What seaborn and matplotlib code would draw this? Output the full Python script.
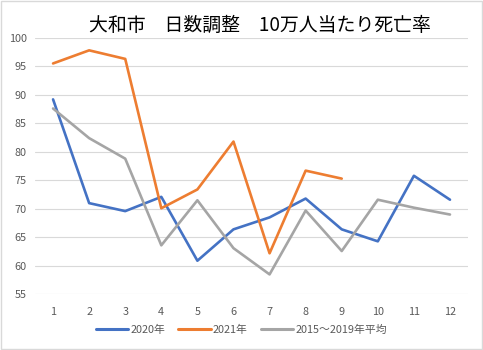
import matplotlib
matplotlib.use("Agg")
import matplotlib.pyplot as plt
import seaborn as sns
import pandas as pd
from matplotlib.patches import Rectangle
from matplotlib.lines import Line2D

months = list(range(1, 13))
y2020 = [89.2, 71.0, 69.6, 72.1, 60.9, 66.4, 68.5, 71.8, 66.4, 64.3, 75.8, 71.6]
y2021 = [95.5, 97.8, 96.3, 70.1, 73.4, 81.8, 62.2, 76.7, 75.3]
yavg = [87.6, 82.4, 78.8, 63.6, 71.5, 63.1, 58.5, 69.7, 62.6, 71.6, 70.2, 69.0]
series_names = ["2020年", "2021年", "2015～2019年平均"]
colors = ["#4472C4", "#ED7D31", "#A5A5A5"]
title = "大和市　日数調整　10万人当たり死亡率"

rows = []
for name, vals in zip(series_names, [y2020, y2021, yavg]):
    for m, v in zip(months, vals):
        rows.append({"month": m, "value": v, "series": name})
df = pd.DataFrame(rows)

sns.set_theme(style="white")
plt.rcParams['font.family'] = ['Noto Sans CJK JP', 'DejaVu Sans']

fig = plt.figure(figsize=(4.83, 3.5), dpi=100)
ax = fig.add_axes([0.0725, 0.159, 0.8965, 0.733])
sns.lineplot(data=df, x="month", y="value", hue="series", hue_order=series_names,
             palette=colors, linewidth=1.9, ax=ax, legend=False, sort=False)

ax.set_xlim(0.5, 12.5)
ax.set_ylim(55, 100)
ax.set_yticks(range(55, 101, 5))
ax.set_xticks(months)
ax.set_xticklabels([str(m) for m in months])
ax.grid(axis="y", color="#D9D9D9", linewidth=0.8)
ax.set_axisbelow(True)
for s in ax.spines.values():
    s.set_visible(False)
ax.tick_params(axis="both", length=0, labelsize=7.8, labelcolor="#595959")
ax.tick_params(axis="x", pad=9)
ax.tick_params(axis="y", pad=6)
ax.set_xlabel("")
ax.set_ylabel("")

fig.text(0.538, 0.928, title, ha="center", va="center", fontsize=13.6, color="black")

handles = [Line2D([0], [0], color=c, linewidth=2.2) for c in colors]
fig.legend(handles, series_names, loc="center", bbox_to_anchor=(0.5, 0.057), ncol=3,
           frameon=False, fontsize=7.8, labelcolor="#595959", handlelength=3.0,
           handletextpad=0.2, columnspacing=1.2)

fig.patches.append(Rectangle((0.002, 0.003), 0.996, 0.994, transform=fig.transFigure,
                             fill=False, edgecolor="#D9D9D9", linewidth=1.0))

fig.savefig("out.png", dpi=100, facecolor="white")
